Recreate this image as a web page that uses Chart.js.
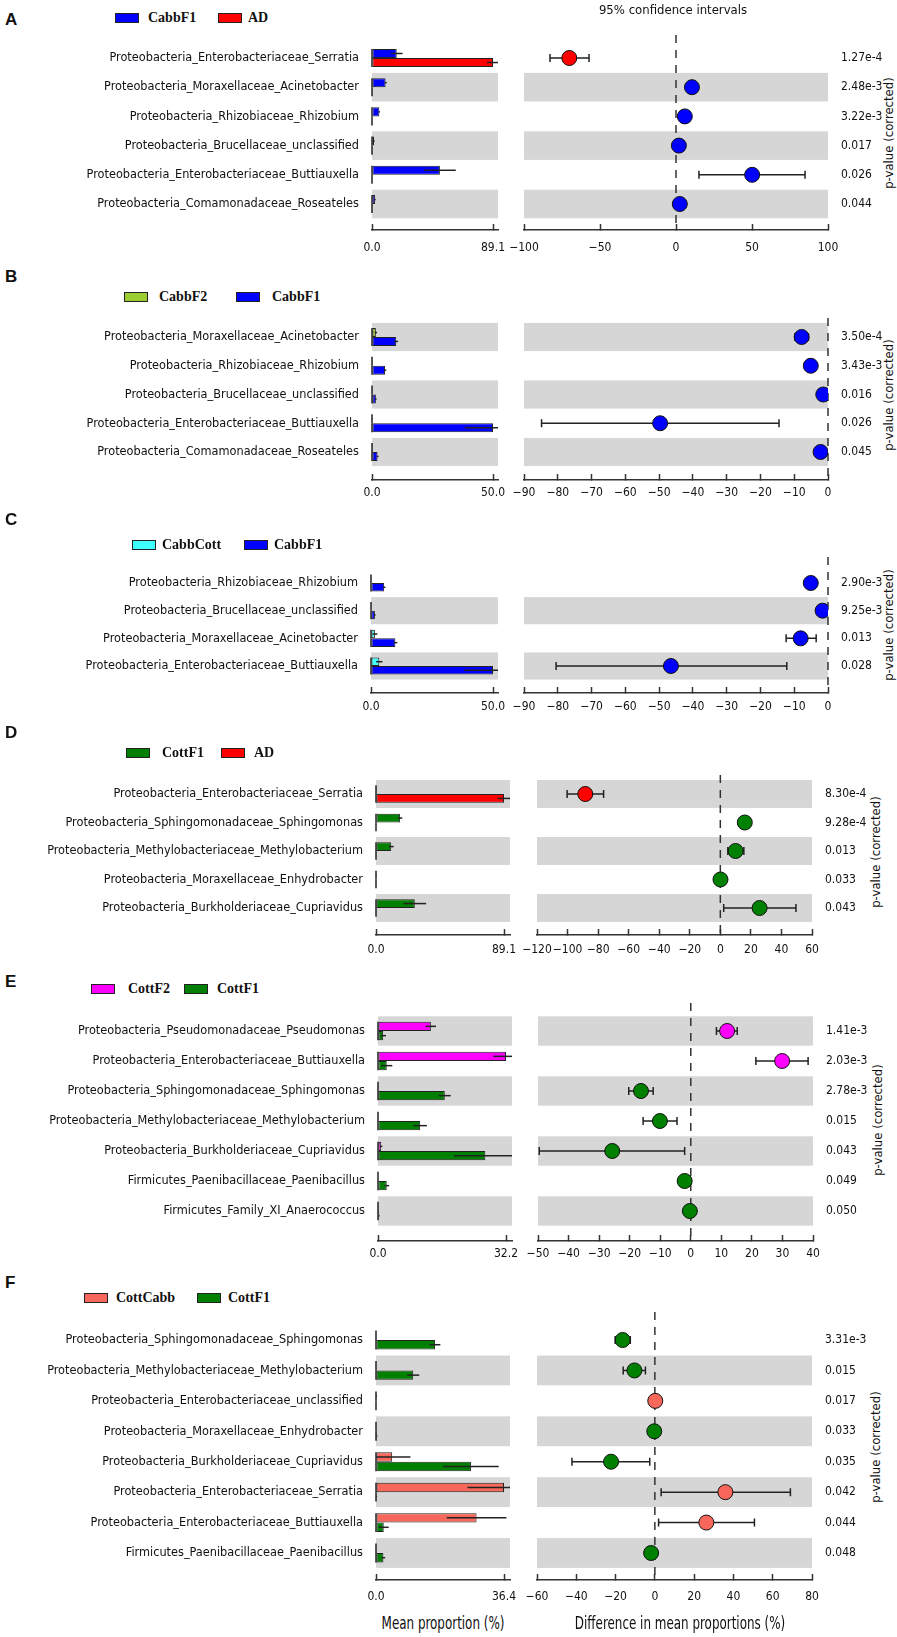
<!DOCTYPE html>
<html><head><meta charset="utf-8">
<script src="https://cdn.jsdelivr.net/npm/chart.js@4.4.1/dist/chart.umd.min.js"></script>
<style>
body{margin:0;background:#fff;width:897px;height:1637px;position:relative;overflow:hidden}
canvas{position:absolute}
.t{position:absolute;white-space:nowrap;color:#111;line-height:1}
.letter{font:bold 17px 'Liberation Sans',Arial,sans-serif}
.leg{font:bold 14px 'Liberation Serif','Times New Roman',serif}
.ttl{font:13px 'DejaVu Sans Condensed','DejaVu Sans',sans-serif}
.axt{font:17px 'DejaVu Sans Condensed','DejaVu Sans',sans-serif}
.box{position:absolute;border:1.5px solid #222;box-sizing:border-box;width:24px;height:10px}
</style></head><body>
<script>
// ---------------- DATA ----------------
// Panel A
const catsA = ['Proteobacteria_Enterobacteriaceae_Serratia','Proteobacteria_Moraxellaceae_Acinetobacter','Proteobacteria_Rhizobiaceae_Rhizobium','Proteobacteria_Brucellaceae_unclassified','Proteobacteria_Enterobacteriaceae_Buttiauxella','Proteobacteria_Comamonadaceae_Roseateles'];
const groupsA = ['CabbF1','AD'];
const meanA1 = [18.2, 10.0, 5.4, 1.6, 50.0, 2.3];
const sdA1   = [4.3, 0.8, 0.5, 0.3, 11.7, 0.4];
const meanA2 = [89.1, 0, 0, 0, 0, 0];
const sdA2   = [4.4, 0, 0, 0, 0, 0];
const diffA  = [-70.2, 10.5, 5.8, 1.9, 50.1, 2.5];
const lowA   = [-82.9, 8.0, 4.5, 1.1, 15.1, 1.5];
const highA  = [-57.2, 13.0, 7.1, 2.7, 84.9, 3.5];
const pvalA  = ['1.27e-4','2.48e-3','3.22e-3','0.017','0.026','0.044'];
const barTicksA = [0, 89.1];
const diffTicksA = [-100, -50, 0, 50, 100];
// Panel B
const catsB = ['Proteobacteria_Moraxellaceae_Acinetobacter','Proteobacteria_Rhizobiaceae_Rhizobium','Proteobacteria_Brucellaceae_unclassified','Proteobacteria_Enterobacteriaceae_Buttiauxella','Proteobacteria_Comamonadaceae_Roseateles'];
const groupsB = ['CabbF2','CabbF1'];
const meanB1 = [1.6, 0.1, 0.0, 0.2, 0.1];
const sdB1   = [0.5, 0, 0, 0.1, 0];
const meanB2 = [10.0, 5.4, 1.6, 50.0, 2.3];
const sdB2   = [0.8, 0.5, 0.3, 11.7, 0.4];
const diffB  = [-7.8, -5.1, -1.4, -49.7, -2.2];
const lowB   = [-9.8, -6.4, -2.0, -84.8, -3.1];
const highB  = [-5.8, -3.8, -0.8, -14.5, -1.3];
const pvalB  = ['3.50e-4','3.43e-3','0.016','0.026','0.045'];
const barTicksB = [0, 50.0];
const diffTicksB = [-90, -80, -70, -60, -50, -40, -30, -20, -10, 0];
// Panel C
const catsC = ['Proteobacteria_Rhizobiaceae_Rhizobium','Proteobacteria_Brucellaceae_unclassified','Proteobacteria_Moraxellaceae_Acinetobacter','Proteobacteria_Enterobacteriaceae_Buttiauxella'];
const groupsC = ['CabbCott','CabbF1'];
const meanC1 = [0.0, 0.0, 1.6, 3.4];
const sdC1   = [0, 0, 1.0, 1.3];
const meanC2 = [5.4, 1.6, 10.0, 50.0];
const sdC2   = [0.5, 0.3, 0.8, 11.7];
const diffC  = [-5.1, -1.6, -8.1, -46.5];
const lowC   = [-6.4, -2.2, -12.4, -80.5];
const highC  = [-3.8, -1.0, -3.5, -12.2];
const pvalC  = ['2.90e-3','9.25e-3','0.013','0.028'];
const barTicksC = [0, 50.0];
const diffTicksC = [-90, -80, -70, -60, -50, -40, -30, -20, -10, 0];
// Panel D
const catsD = ['Proteobacteria_Enterobacteriaceae_Serratia','Proteobacteria_Sphingomonadaceae_Sphingomonas','Proteobacteria_Methylobacteriaceae_Methylobacterium','Proteobacteria_Moraxellaceae_Enhydrobacter','Proteobacteria_Burkholderiaceae_Cupriavidus'];
const groupsD = ['CottF1','AD'];
const meanD1 = [0.2, 16.8, 10.6, 0.3, 27.0];
const sdD1   = [0.1, 1.5, 1.7, 0.1, 7.9];
const meanD2 = [89.1, 0, 0, 0, 0];
const sdD2   = [4.4, 0, 0, 0, 0];
const diffD  = [-88.4, 16.0, 10.0, 0.1, 25.7];
const lowD   = [-100.3, 12.3, 4.9, -0.2, 2.2];
const highD  = [-76.4, 19.8, 15.4, 0.4, 49.5];
const pvalD  = ['8.30e-4','9.28e-4','0.013','0.033','0.043'];
const barTicksD = [0, 89.1];
const diffTicksD = [-120, -100, -80, -60, -40, -20, 0, 20, 40, 60];
// Panel E
const catsE = ['Proteobacteria_Pseudomonadaceae_Pseudomonas','Proteobacteria_Enterobacteriaceae_Buttiauxella','Proteobacteria_Sphingomonadaceae_Sphingomonas','Proteobacteria_Methylobacteriaceae_Methylobacterium','Proteobacteria_Burkholderiaceae_Cupriavidus','Firmicutes_Paenibacillaceae_Paenibacillus','Firmicutes_Family_XI_Anaerococcus'];
const groupsE = ['CottF2','CottF1'];
const meanE1 = [13.3, 32.2, 0.1, 0.1, 0.8, 0.0, 0.0];
const sdE1   = [1.3, 3.2, 0, 0, 0.3, 0, 0];
const meanE2 = [1.3, 2.2, 16.8, 10.6, 27.0, 2.2, 0.3];
const sdE2   = [0.7, 1.4, 1.5, 1.7, 7.9, 0.6, 0.1];
const diffE  = [11.9, 29.9, -16.3, -10.1, -25.7, -2.0, -0.3];
const lowE   = [8.4, 21.3, -20.3, -15.6, -49.6, -2.6, -0.5];
const highE  = [15.2, 38.4, -12.3, -4.5, -2.0, -1.4, -0.1];
const pvalE  = ['1.41e-3','2.03e-3','2.78e-3','0.015','0.043','0.049','0.050'];
const barTicksE = [0, 32.2];
const diffTicksE = [-50, -40, -30, -20, -10, 0, 10, 20, 30, 40];
// Panel F
const catsF = ['Proteobacteria_Sphingomonadaceae_Sphingomonas','Proteobacteria_Methylobacteriaceae_Methylobacterium','Proteobacteria_Enterobacteriaceae_unclassified','Proteobacteria_Moraxellaceae_Enhydrobacter','Proteobacteria_Burkholderiaceae_Cupriavidus','Proteobacteria_Enterobacteriaceae_Serratia','Proteobacteria_Enterobacteriaceae_Buttiauxella','Firmicutes_Paenibacillaceae_Paenibacillus'];
const groupsF = ['CottCabb','CottF1'];
const meanF1 = [0.0, 0.0, 0.2, 0.0, 4.6, 36.4, 28.6, 0.0];
const sdF1   = [0, 0, 0.1, 0, 5.2, 10.4, 8.5, 0];
const meanF2 = [16.8, 10.6, 0.0, 0.3, 27.0, 0.2, 2.2, 2.1];
const sdF2   = [1.5, 1.7, 0, 0.1, 7.9, 0.1, 1.4, 0.5];
const diffF  = [-16.4, -10.4, 0.2, -0.3, -22.3, 35.9, 26.2, -1.9];
const lowF   = [-20.2, -16.1, 0.1, -0.5, -42.2, 3.2, 1.9, -2.5];
const highF  = [-12.5, -4.8, 0.3, -0.1, -2.6, 69.0, 50.7, -1.3];
const pvalF  = ['3.31e-3','0.015','0.017','0.033','0.035','0.042','0.044','0.048'];
const barTicksF = [0, 36.4];
const diffTicksF = [-60, -40, -20, 0, 20, 40, 60, 80];

const panelLetters = ['A','B','C','D','E','F'];
const ciTitle = '95% confidence intervals';
const pTitle = 'p-value (corrected)';
const barAxisTitle = 'Mean proportion (%)';
const diffAxisTitle = 'Difference in mean proportions (%)';

// ---------------- STYLE / LAYOUT ----------------
const groupColor = {CabbF1:'#0000ff', AD:'#ff0000', CabbF2:'#9acd32', CabbCott:'#40ffff', CottF1:'#008000', CottF2:'#ff00ff', CottCabb:'#f8675b'};
const BAND = '#d6d6d6', INK = '#222';
const FONT = "'DejaVu Sans Condensed','DejaVu Sans',sans-serif";

const panels = [
 {cats:catsA, groups:groupsA, m1:meanA1, s1:sdA1, m2:meanA2, s2:sdA2, diff:diffA, lo:lowA, hi:highA, pv:pvalA, bt:barTicksA, dt:diffTicksA},
 {cats:catsB, groups:groupsB, m1:meanB1, s1:sdB1, m2:meanB2, s2:sdB2, diff:diffB, lo:lowB, hi:highB, pv:pvalB, bt:barTicksB, dt:diffTicksB},
 {cats:catsC, groups:groupsC, m1:meanC1, s1:sdC1, m2:meanC2, s2:sdC2, diff:diffC, lo:lowC, hi:highC, pv:pvalC, bt:barTicksC, dt:diffTicksC},
 {cats:catsD, groups:groupsD, m1:meanD1, s1:sdD1, m2:meanD2, s2:sdD2, diff:diffD, lo:lowD, hi:highD, pv:pvalD, bt:barTicksD, dt:diffTicksD},
 {cats:catsE, groups:groupsE, m1:meanE1, s1:sdE1, m2:meanE2, s2:sdE2, diff:diffE, lo:lowE, hi:highE, pv:pvalE, bt:barTicksE, dt:diffTicksE},
 {cats:catsF, groups:groupsF, m1:meanF1, s1:sdF1, m2:meanF2, s2:sdF2, diff:diffF, lo:lowF, hi:highF, pv:pvalF, bt:barTicksF, dt:diffTicksF},
];
const geo = [
 {letterY:20,  legY:18,   legBox:[115,218], legTxt:[148,248], yTop:35,   c0:58,   cN:204,  yAxis:230,  barL:372, barR:498, barTickPx:493, dotL:524, dotR:828, tickPad:11, pvX:888, pvY:133},
 {letterY:277, legY:297,  legBox:[124,236], legTxt:[159,272], yTop:318,  c0:337,  cN:452,  yAxis:480,  barL:372, barR:498, barTickPx:493, dotL:524, dotR:828, tickPad:6,  pvX:888, pvY:395},
 {letterY:520, legY:545,  legBox:[132,244], legTxt:[162,274], yTop:557,  c0:583,  cN:666,  yAxis:693,  barL:371, barR:498, barTickPx:493, dotL:524, dotR:828, tickPad:7,  pvX:888, pvY:625},
 {letterY:733, legY:753,  legBox:[126,221], legTxt:[162,254], yTop:775,  c0:794,  cN:908,  yAxis:935,  barL:376, barR:510, barTickPx:504, dotL:537, dotR:812, tickPad:8,  pvX:875, pvY:852},
 {letterY:982, legY:989,  legBox:[91,184],  legTxt:[128,217], yTop:1003, c0:1031, cN:1211, yAxis:1241, barL:378, barR:512, barTickPx:506, dotL:538, dotR:813, tickPad:6,  pvX:877, pvY:1120},
 {letterY:1283,legY:1298, legBox:[84,197],  legTxt:[116,228], yTop:1312, c0:1340, cN:1553, yAxis:1580, barL:376, barR:510, barTickPx:504, dotL:537, dotR:812, tickPad:10, pvX:875, pvY:1447},
];
const PT = 20, XH = 32, PR = 45, PLD = 45, RW = 62;

Chart.defaults.font.family = FONT;
Chart.defaults.font.size = 12;
Chart.defaults.color = '#111';

function mkCanvas(left, top, w, h){
  const c = document.createElement('canvas');
  c.width = w; c.height = h;
  c.style.left = left + 'px'; c.style.top = top + 'px';
  c.style.width = w + 'px'; c.style.height = h + 'px';
  document.body.appendChild(c); return c;
}
function addText(txt, x, y, cls, mode){
  const d = document.createElement('div');
  d.className = 't ' + cls; d.textContent = txt;
  d.style.left = x + 'px'; d.style.top = y + 'px';
  d.style.transform = mode === 'c' ? 'translate(-50%,-50%)'
    : mode === 'v' ? 'translate(-50%,-50%) rotate(-90deg)'
    : mode === 'n' ? 'translate(-50%,-50%) scaleX(0.78)'
    : 'translateY(-50%)';
  document.body.appendChild(d);
}
function addBox(x, y, color){
  const b = document.createElement('div');
  b.className = 'box'; b.style.left = x + 'px'; b.style.top = (y - 5) + 'px'; b.style.background = color;
  document.body.appendChild(b);
}
const fmtDiff = v => (v < 0 ? '\u2212' + Math.abs(v) : String(v));

function drawBands(chart, n){
  const {ctx, chartArea:a} = chart, ys = chart.scales.y;
  ctx.save(); ctx.fillStyle = BAND;
  for (let i = 0; i < n; i++){
    if ((n - 1 - i) % 2) continue;
    const y0 = ys.getPixelForValue(i - 0.49), y1 = ys.getPixelForValue(i + 0.49);
    ctx.fillRect(a.left, Math.min(y0, y1), a.right - a.left, Math.abs(y1 - y0));
  }
  ctx.restore();
}

panels.forEach((p, k) => {
  const g = geo[k], n = p.cats.length;
  const step = (g.cN - g.c0) / (n - 1);
  const yMin = -(g.c0 - g.yTop) / step, yMax = (n - 1) + (g.yAxis - g.cN) / step;
  const top = g.yTop - PT, h = g.yAxis + XH - top;
  const c1 = groupColor[p.groups[0]], c2 = groupColor[p.groups[1]];
  const lastTick = p.bt[p.bt.length - 1];
  const barMax = lastTick * (g.barR - g.barL) / (g.barTickPx - g.barL);
  const yScaleBase = {
    type:'linear', reverse:true, min:yMin, max:yMax, offset:false, bounds:'data',
    afterBuildTicks: s => { s.ticks = p.cats.map((c, i) => ({value:i})); },
    grid:{display:false, offset:false}, border:{display:false},
  };
  const xGrid = {drawOnChartArea:false, drawTicks:true, tickLength:-6, color:'#333', tickWidth:1.5};
  const xBorder = {display:true, color:'#333', width:1.5};

  addText(panelLetters[k], 5, g.letterY, 'letter', 'l');
  p.groups.forEach((gr, j) => { addBox(g.legBox[j], g.legY, groupColor[gr]); addText(gr, g.legTxt[j], g.legY, 'leg', 'l'); });
  addText(pTitle, g.pvX, g.pvY, 'ttl', 'v');

  // mean proportion bars
  const bc = mkCanvas(0, top, g.barR + PR, h);
  new Chart(bc, {
    type:'bar',
    data:{datasets:[
      {label:p.groups[0], data:p.m1.map((v, i) => ({x:v, y:i})), backgroundColor:c1},
      {label:p.groups[1], data:p.m2.map((v, i) => ({x:v, y:i})), backgroundColor:c2},
    ]},
    options:{
      indexAxis:'y', responsive:false, animation:false,
      layout:{padding:{top:PT, right:PR, left:0, bottom:0}},
      datasets:{bar:{borderColor:INK, borderWidth:1, borderSkipped:false, categoryPercentage:0.62, barPercentage:1}},
      plugins:{legend:{display:false}, tooltip:{enabled:false}},
      scales:{
        y:Object.assign({}, yScaleBase, {position:'left', afterFit: s => { s.width = g.barL; },
          ticks:{autoSkip:false, padding:5, font:{size:12.6}, callback: v => p.cats[v]}}),
        x:{type:'linear', position:'bottom', min:0, max:barMax, offset:false,
          afterBuildTicks: s => { s.ticks = p.bt.map(v => ({value:v})); },
          afterFit: s => { s.height = XH; },
          grid:xGrid, border:xBorder,
          ticks:{autoSkip:false, maxRotation:0, padding:g.tickPad + 6, callback: v => Number(v).toFixed(1)}},
      },
    },
    plugins:[{
      id:'barDeco',
      beforeDatasetsDraw(chart){ drawBands(chart, n); },
      afterDatasetsDraw(chart){
        const {ctx, chartArea:a} = chart, xs = chart.scales.x;
        ctx.save();
        ctx.beginPath(); ctx.rect(a.left - 2, a.top, a.right - a.left + 2, a.bottom - a.top); ctx.clip();
        ctx.strokeStyle = INK; ctx.lineWidth = 1.5;
        [[p.m1, p.s1], [p.m2, p.s2]].forEach(([ms, ss], d) => {
          chart.getDatasetMeta(d).data.forEach((el, i) => {
            const x0 = xs.getPixelForValue(0), hh = el.height / 2;
            ctx.beginPath(); ctx.moveTo(x0, el.y - hh); ctx.lineTo(x0, el.y + hh); ctx.stroke();
            if (ss[i] > 0){
              ctx.beginPath();
              ctx.moveTo(xs.getPixelForValue(Math.max(0, ms[i] - ss[i])), el.y);
              ctx.lineTo(xs.getPixelForValue(ms[i] + ss[i]), el.y); ctx.stroke();
            }
          });
        });
        ctx.restore();
      }
    }]
  });

  // difference in mean proportions with 95% CI
  const dl = g.dotL - PLD;
  const dc = mkCanvas(dl, top, g.dotR + RW - dl, h);
  new Chart(dc, {
    type:'scatter',
    data:{datasets:[{
      data:p.diff.map((v, i) => ({x:v, y:i})),
      pointBackgroundColor:p.diff.map(v => v > 0 ? c1 : c2),
      pointBorderColor:'#111', pointBorderWidth:1, pointRadius:7.5, pointHoverRadius:7.5, clip:0,
    }]},
    options:{
      responsive:false, animation:false,
      layout:{padding:{top:PT, right:0, left:PLD, bottom:0}},
      plugins:{legend:{display:false}, tooltip:{enabled:false}},
      scales:{
        y:Object.assign({}, yScaleBase, {position:'right', afterFit: s => { s.width = RW; },
          ticks:{autoSkip:false, padding:5, callback: v => p.pv[v]}}),
        x:{type:'linear', position:'bottom', min:p.dt[0], max:p.dt[p.dt.length - 1],
          afterBuildTicks: s => { s.ticks = p.dt.map(v => ({value:v})); },
          afterFit: s => { s.height = XH; },
          grid:xGrid, border:xBorder,
          ticks:{autoSkip:false, maxRotation:0, padding:g.tickPad + 6, callback: v => fmtDiff(v)}},
      },
    },
    plugins:[{
      id:'dotDeco',
      beforeDatasetsDraw(chart){
        drawBands(chart, n);
        const {ctx, chartArea:a} = chart, xs = chart.scales.x, ys = chart.scales.y;
        ctx.save();
        const x0 = xs.getPixelForValue(0);
        ctx.strokeStyle = '#333'; ctx.lineWidth = 1.5; ctx.setLineDash([8, 7]);
        ctx.beginPath(); ctx.moveTo(x0, a.top); ctx.lineTo(x0, a.bottom); ctx.stroke();
        ctx.setLineDash([]); ctx.strokeStyle = INK; ctx.lineWidth = 1.5;
        p.diff.forEach((v, i) => {
          const y = ys.getPixelForValue(i), xl = xs.getPixelForValue(p.lo[i]), xh = xs.getPixelForValue(p.hi[i]);
          ctx.beginPath(); ctx.moveTo(xl, y); ctx.lineTo(xh, y);
          ctx.moveTo(xl, y - 4); ctx.lineTo(xl, y + 4);
          ctx.moveTo(xh, y - 4); ctx.lineTo(xh, y + 4); ctx.stroke();
        });
        ctx.restore();
      }
    }]
  });
});

addText(ciTitle, 673, 9, 'ttl', 'c');
addText(barAxisTitle, 443, 1623, 'axt', 'n');
addText(diffAxisTitle, 680, 1623, 'axt', 'n');
</script>
</body></html>
